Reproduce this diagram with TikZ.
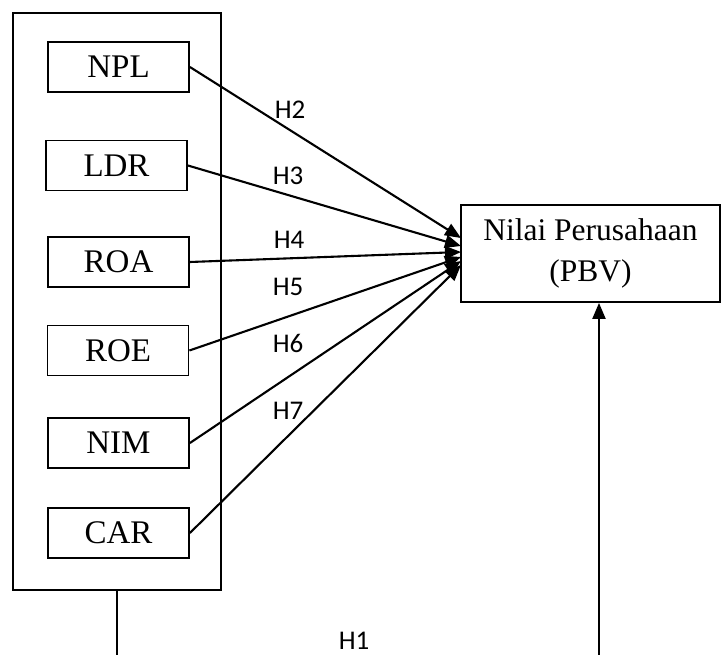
\documentclass[tikz,border=0pt]{standalone}
\usepackage{fontspec}
\setmainfont{Liberation Serif}
\newfontfamily\labfont{Carlito}
\usetikzlibrary{arrows.meta}
\begin{document}
\begin{tikzpicture}[x=1pt,y=-1pt,
  varbox/.style={draw,line width=1.8pt,minimum width=141pt,minimum height=50pt,inner sep=0pt,font=\fontsize{33}{36}\selectfont},
  outerbox/.style={draw,line width=1.8pt,minimum width=208pt,minimum height=577pt,inner sep=0pt},
  pbvbox/.style={draw,line width=1.8pt,minimum width=259pt,minimum height=97pt,inner sep=0pt,align=center,font=\fontsize{31.5}{41}\selectfont},
  conn/.style={line width=2.1pt,-{Triangle[length=16pt,width=13pt]}},
  plain/.style={line width=2.1pt},
  hlab/.style={font=\labfont\fontsize{27}{30}\selectfont,inner sep=0pt}]
\useasboundingbox (0,0) rectangle (722,655);
\node[outerbox] (outer) at (117,301.5) {};
\node[varbox] (npl) at (118.5,67) {NPL};
\node[varbox] (ldr) at (116.5,165.5) {LDR};
\node[varbox] (roa) at (118.5,262) {ROA};
\node[varbox] (roe) at (118,350.5) {ROE};
\node[varbox] (nim) at (118.5,443) {NIM};
\node[varbox] (car) at (118.5,533) {CAR};
\node[pbvbox] (pbv) at (590.5,253.5) {Nilai Perusahaan\\(PBV)};
\coordinate (t1) at (461,238);
\coordinate (t2) at (461,246);
\coordinate (t3) at (461,252);
\coordinate (t4) at (461,257);
\coordinate (t5) at (461,261);
\coordinate (t6) at (461,265);
\draw[conn] (npl.east) -- (t1);
\draw[conn] (ldr.east) -- (t2);
\draw[conn] (roa.east) -- (t3);
\draw[conn] (roe.east) -- (t4);
\draw[conn] (nim.east) -- (t5);
\draw[conn] (car.east) -- (t6);
\node[hlab] (h2) at (290,110) {H2};
\node[hlab] (h3) at (288,176) {H3};
\node[hlab] (h4) at (289,240) {H4};
\node[hlab] (h5) at (288,287) {H5};
\node[hlab] (h6) at (288,343) {H6};
\node[hlab] (h7) at (288,411) {H7};
\node[hlab] (h1) at (354,641) {H1};
\coordinate (b1) at (117,656);
\coordinate (b2) at (599,656);
\draw[plain] (outer.south) -- (b1);
\draw[conn] (b2) -- (pbv.south -| b2);
\end{tikzpicture}
\end{document}
